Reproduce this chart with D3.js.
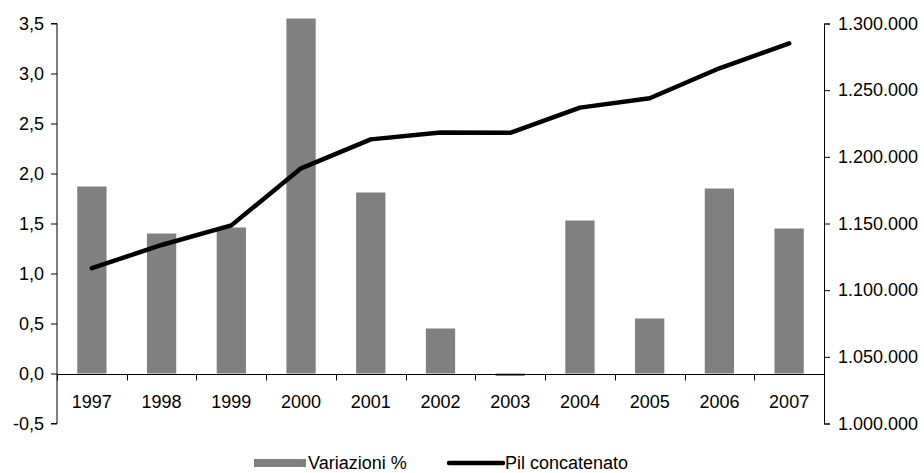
<!DOCTYPE html>
<html><head><meta charset="utf-8">
<script src="https://cdn.jsdelivr.net/npm/d3@7"></script>
<style>
html,body{margin:0;padding:0;background:#fff;}
text{font-family:"Liberation Sans",Arial,sans-serif;fill:#000;}
</style></head>
<body><svg id="chart" width="924" height="473"></svg>
<script>
const years = ["1997","1998","1999","2000","2001","2002","2003","2004","2005","2006","2007"];
const variazioni = [1.87, 1.40, 1.46, 3.55, 1.81, 0.45, -0.025, 1.53, 0.55, 1.85, 1.45];
const pil = [1116500, 1133900, 1148600, 1191400, 1213100, 1218300, 1218000, 1236900, 1243900, 1266400, 1285100];
const leftTicks = [-0.5, 0, 0.5, 1, 1.5, 2, 2.5, 3, 3.5];
const rightTicks = [1000000, 1050000, 1100000, 1150000, 1200000, 1250000, 1300000];
const seriesNames = ["Variazioni %", "Pil concatenato"];

const locale = d3.formatLocale({decimal: ",", thousands: ".", grouping: [3], currency: ["", "€"], minus: "-"});
const fmtL = locale.format(".1f");
const fmtR = locale.format(",d");

const svg = d3.select("#chart");
const L = 57, R = 824, T = 23.5, B = 423.5;
const FS = 18;

const x = d3.scaleBand().domain(years).range([L, R]).paddingInner(0.58).paddingOuter(0.29);
const yL = d3.scaleLinear().domain([-0.5, 3.5]).range([B, T]);
const yR = d3.scaleLinear().domain([1000000, 1300000]).range([B, T]);

// bars
svg.append("g").selectAll("rect").data(years).join("rect")
  .attr("x", d => x(d))
  .attr("width", x.bandwidth())
  .attr("y", (d, i) => yL(Math.max(0, variazioni[i])))
  .attr("height", (d, i) => Math.abs(yL(variazioni[i]) - yL(0)))
  .attr("fill", "#808080");

// left axis
const gL = svg.append("g").attr("transform", `translate(${L},0)`)
  .call(d3.axisLeft(yL).tickValues(leftTicks).tickFormat(fmtL).tickSize(6).tickPadding(7));
gL.select(".domain").attr("d", `M-6,${B}H0V${T}H-6`);
gL.selectAll("text").style("font-size", FS + "px").style("font-family", "Liberation Sans, Arial, sans-serif");

// right axis
const gR = svg.append("g").attr("transform", `translate(${R},0)`)
  .call(d3.axisRight(yR).tickValues(rightTicks).tickFormat(fmtR).tickSize(6).tickPadding(8));
gR.selectAll("text").style("font-size", FS + "px").style("font-family", "Liberation Sans, Arial, sans-serif");

// x axis at zero
const y0 = Math.round(yL(0)) + 0.5;
const gap = (x.step() - x.bandwidth()) / 2;
const bounds = years.map(d => x(d) - gap).concat([x(years[years.length - 1]) + x.bandwidth() + gap]);
const gX = svg.append("g");
gX.append("line").attr("x1", L).attr("x2", R).attr("y1", y0).attr("y2", y0).attr("stroke", "#000");
gX.selectAll("line.tk").data(bounds).join("line").attr("class", "tk")
  .attr("x1", d => Math.round(d) + 0.5).attr("x2", d => Math.round(d) + 0.5)
  .attr("y1", y0).attr("y2", y0 + 6).attr("stroke", "#000");
gX.selectAll("text").data(years).join("text")
  .attr("x", d => x(d) + x.bandwidth() / 2)
  .attr("y", y0 + 33)
  .attr("text-anchor", "middle")
  .style("font-size", FS + "px")
  .text(d => d);

// line
const line = d3.line().x((d, i) => x(years[i]) + x.bandwidth() / 2).y(d => yR(d));
svg.append("path").datum(pil).attr("d", line)
  .attr("fill", "none").attr("stroke", "#000").attr("stroke-width", 4.5)
  .attr("stroke-linejoin", "round").attr("stroke-linecap", "round");

// legend
const lg = svg.append("g");
lg.append("rect").attr("x", 254).attr("y", 459).attr("width", 52).attr("height", 8).attr("fill", "#808080");
lg.append("text").attr("x", 308).attr("y", 469).style("font-size", FS + "px").text(seriesNames[0]);
lg.append("line").attr("x1", 449).attr("x2", 503).attr("y1", 463).attr("y2", 463)
  .attr("stroke", "#000").attr("stroke-width", 4.5).attr("stroke-linecap", "round");
lg.append("text").attr("x", 505).attr("y", 469).style("font-size", FS + "px").text(seriesNames[1]);
</script></body></html>
